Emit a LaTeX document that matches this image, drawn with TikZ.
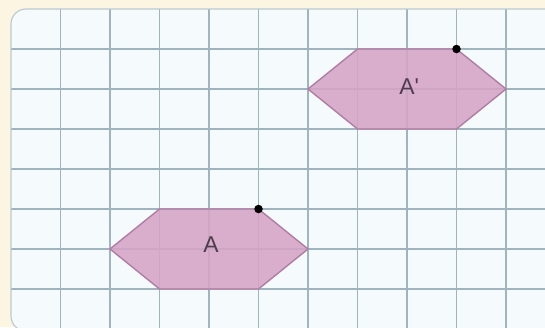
\documentclass[tikz,border=0pt]{standalone}
\usepackage{fontspec}
\setmainfont{Liberation Sans}
\definecolor{cream}{HTML}{FBF5E2}
\definecolor{paper}{HTML}{F5FBFD}
\definecolor{gridline}{HTML}{9FB4BF}
\definecolor{hexfill}{HTML}{D6A3C6}
\definecolor{hexline}{HTML}{B07DA3}
\definecolor{labelcol}{HTML}{4E3E4C}
\begin{document}
\begin{tikzpicture}[x=1bp,y=-1bp,
  gridstyle/.style={draw=gridline,line width=1.2bp},
  hexstyle/.style={fill=hexfill,fill opacity=0.88,draw=hexline,line width=1.4bp,line join=miter},
  vertexdot/.style={circle,fill=black,inner sep=0pt,minimum size=8.5bp},
  hexlabel/.style={text=labelcol,inner sep=0pt,font=\fontsize{23}{26}\selectfont}]
\useasboundingbox (0,0) rectangle (545,327);
\fill[cream] (0,0) rectangle (545,327);
% paper sheet
\begin{scope}
\clip[rounded corners=15bp] (11,9) rectangle (580,331);
\fill[paper] (11,9) rectangle (580,331);
\foreach \k in {1,...,11} {
  \draw[gridstyle] ({11+49.5*\k},9) -- ({11+49.5*\k},331);
}
\foreach \j in {1,...,7} {
  \draw[gridstyle] (11,{9+40*\j}) -- (580,{9+40*\j});
}
\end{scope}
\draw[draw=gridline!70,line width=1.2bp,rounded corners=15bp] (580,9) -- (11,9) -- (11,331) -- (580,331);
% hexagon A
\coordinate (a1) at (110,249);
\coordinate (a2) at (159.5,209);
\coordinate (a3) at (258.5,209);
\coordinate (a4) at (308,249);
\coordinate (a5) at (258.5,289);
\coordinate (a6) at (159.5,289);
\draw[hexstyle] (a1) -- (a2) -- (a3) -- (a4) -- (a5) -- (a6) -- cycle;
% hexagon A'
\coordinate (b1) at (308,89);
\coordinate (b2) at (357.5,49);
\coordinate (b3) at (456.5,49);
\coordinate (b4) at (506,89);
\coordinate (b5) at (456.5,129);
\coordinate (b6) at (357.5,129);
\draw[hexstyle] (b1) -- (b2) -- (b3) -- (b4) -- (b5) -- (b6) -- cycle;
% dots
\node[vertexdot] (da) at (a3) {};
\node[vertexdot] (db) at (b3) {};
% labels
\node[hexlabel] (la) at (211,245) {A};
\node[hexlabel] (lb) at (407,87) {A\rlap{\textquotesingle}};
\end{tikzpicture}
\end{document}
